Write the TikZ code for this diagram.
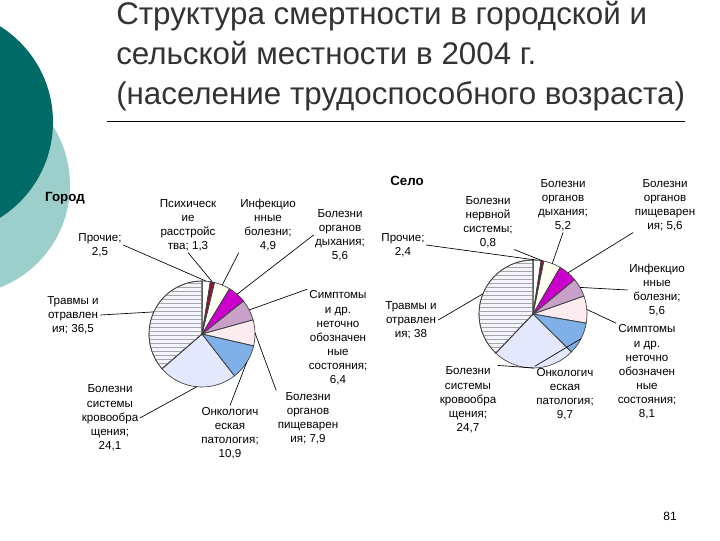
\documentclass[tikz,border=0pt]{standalone}
\usepackage{fontspec}
\setmainfont{Liberation Sans}
\usetikzlibrary{patterns,calc}
\definecolor{dteal}{HTML}{006B66}
\definecolor{lteal}{HTML}{9CCFCC}
\definecolor{cdred}{HTML}{8A1538}
\definecolor{cwhite}{HTML}{FFFFF2}
\definecolor{cmag}{HTML}{CC00CC}
\definecolor{cmauve}{HTML}{C8A0C8}
\definecolor{cpink}{HTML}{FCECF0}
\definecolor{cblue}{HTML}{80B0E8}
\definecolor{clav}{HTML}{E4E8FC}
\definecolor{cstripe}{HTML}{F4F4FC}
\tikzset{lbl/.style={align=center,font=\fontsize{8.7}{10.6}\selectfont,inner sep=1pt},
 lead/.style={draw=black,line width=0.5pt},
 slice/.style={draw=black!75,line width=0.5pt}}
\newcommand\mypie[4]{% center, radius, prefix, list
 \gdef\cur{-90}
 \foreach \v/\c [count=\i] in {#4} {
  \pgfmathsetmacro\s{\cur}
  \pgfmathsetmacro\e{\cur+\v*3.6}
  \pgfmathsetmacro\m{(\s+\e)/2}
  \fill[\c] (#1) -- ++(\s:#2) arc[start angle=\s,end angle=\e,radius=#2] -- cycle;
  \coordinate (#3\i) at ($(#1)+(\m:#2)$);
  \xdef\cur{\e}
 }
 \gdef\cur{-90}
 \foreach \v/\c [count=\i] in {#4} {
  \pgfmathsetmacro\s{\cur}
  \pgfmathsetmacro\e{\cur+\v*3.6}
  \draw[slice] (#1) -- ++(\s:#2) arc[start angle=\s,end angle=\e,radius=#2] -- cycle;
  \xdef\cur{\e}
 }
}
\begin{document}
\begin{tikzpicture}[x=0.75pt,y=-0.75pt]
\useasboundingbox (0,0) rectangle (720,540);
\fill[white] (0,0) rectangle (720,540);
\begin{scope}
\clip (0,0) rectangle (720,540);
\fill[lteal] (-40,185) circle[radius=110];
\fill[dteal] (-60,122) circle[radius=113];
\end{scope}
\node[anchor=north west,align=left,text=black!80,font=\fontsize{23.5}{30}\selectfont,inner sep=0] (title) at (116,1)
 {Структура смертности в городской и\\сельской местности в 2004 г.\\(население трудоспособного возраста)};
\draw[line width=0.6pt] (107,121) coordinate (hl1) -- (685,121) coordinate (hl2);
% left pie
\coordinate (CL) at (202,334);
\mypie{CL}{53}{A}{2.5/white,1.3/cdred,4.9/cwhite,5.6/cmag,6.4/cmauve,7.9/cpink,10.9/cblue,24.1/clav,36.5/cstripe}
\draw[slice,pattern=horizontal lines,pattern color=black!35] (CL) -- ++(-90+63.6*3.6:53) arc[start angle=-90+63.6*3.6,end angle=270,radius=53] -- cycle;
% right pie
\coordinate (CR) at (533,314);
\mypie{CR}{54}{B}{2.4/white,0.8/cdred,5.2/cwhite,5.6/cmag,5.6/cmauve,8.1/cpink,9.7/cblue,24.7/clav,38/cstripe}
\draw[slice,pattern=horizontal lines,pattern color=black!35] (CR) -- ++(-90+62.1*3.6:54) arc[start angle=-90+62.1*3.6,end angle=270,radius=54] -- cycle;
% left labels
\node[font=\fontsize{10}{12}\selectfont\bfseries] (gor) at (65,198) {Город};
\node[lbl] (a1) at (100,245) {Прочие;\\2,5};
\node[lbl] (a2) at (188,225) {Психическ\\ие\\расстройс\\тва; 1,3};
\node[lbl] (a3) at (268,225) {Инфекцио\\нные\\болезни;\\4,9};
\node[lbl] (a4) at (340,235) {Болезни\\органов\\дыхания;\\5,6};
\node[lbl] (a5) at (338,338) {Симптомы\\и др.\\неточно\\обозначен\\ные\\состояния;\\6,4};
\node[lbl] (a6) at (308,418) {Болезни\\органов\\пищеварен\\ия; 7,9};
\node[lbl] (a7) at (230,433) {Онкологич\\еская\\патология;\\10,9};
\node[lbl] (a8) at (110,418) {Болезни\\системы\\кровообра\\щения;\\24,1};
\node[lbl] (a9) at (73,315) {Травмы и\\отравлен\\ия; 36,5};
\draw[lead] (a1.east) -- (A1);
\draw[lead] (a2.south) -- (A2);
\draw[lead] (a3.south west) -- (A3);
\draw[lead] (a4.west) -- (A4);
\draw[lead] (a5.north west) -- (A5);
\draw[lead] (a6.north west) -- (A6);
\draw[lead] (a7.north) -- (A7);
\draw[lead] (a8.east) -- (A8);
\draw[lead] (a9.east) -- (A9);
% right labels
\node[font=\fontsize{10}{12}\selectfont\bfseries] (selo) at (407,181) {Село};
\node[lbl] (b1) at (403,245) {Прочие;\\2,4};
\node[lbl] (b2) at (488,222) {Болезни\\нервной\\системы;\\0,8};
\node[lbl] (b3) at (563,205) {Болезни\\органов\\дыхания;\\5,2};
\node[lbl] (b4) at (665,205) {Болезни\\органов\\пищеварен\\ия; 5,6};
\node[lbl] (b5) at (657,290) {Инфекцио\\нные\\болезни;\\5,6};
\node[lbl] (b6) at (647,372) {Симптомы\\и др.\\неточно\\обозначен\\ные\\состояния;\\8,1};
\node[lbl] (b7) at (565,394) {Онкологич\\еская\\патология;\\9,7};
\node[lbl] (b8) at (468,400) {Болезни\\системы\\кровообра\\щения;\\24,7};
\node[lbl] (b9) at (411,320) {Травмы и\\отравлен\\ия; 38};
\draw[lead] (b1.east) -- (B1);
\draw[lead] (b2.south east) -- (B2);
\draw[lead] (b3.south) -- (B3);
\draw[lead] (b4.south west) -- (B4);
\draw[lead] (b5.west) -- (B5);
\draw[lead] (b6.north west) -- (B6);
\draw[lead] (b7.north west) -- (B7);
\draw[lead] (b8.north east) -- (B8);
\draw[lead] (b9.east) -- (B9);
\node[font=\fontsize{9}{10}\selectfont] (pg) at (670,516) {81};
\end{tikzpicture}
\end{document}
